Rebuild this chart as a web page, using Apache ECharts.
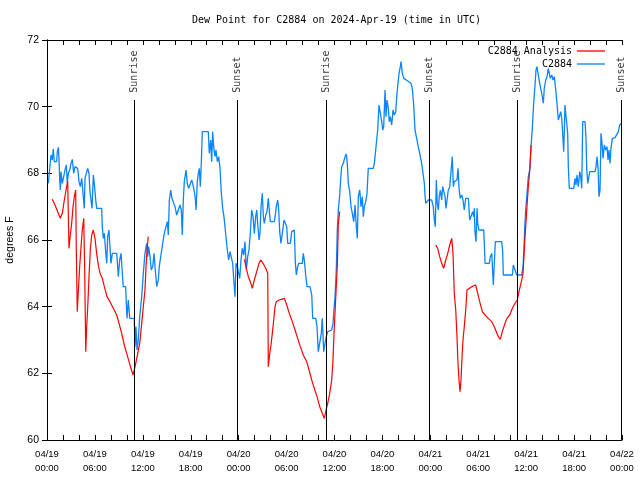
<!DOCTYPE html>
<html><head><meta charset="utf-8">
<script src="https://cdn.jsdelivr.net/npm/echarts@6/dist/echarts.min.js"></script>
<style>html,body{margin:0;padding:0;background:#fff}#c{width:640px;height:480px}</style>
</head><body><div id="c"></div>
<script>
// hours since 2024-04-19 00:00 UTC
const xTickLabels = ['04/19\n00:00','04/19\n06:00','04/19\n12:00','04/19\n18:00','04/20\n00:00','04/20\n06:00','04/20\n12:00','04/20\n18:00','04/21\n00:00','04/21\n06:00','04/21\n12:00','04/21\n18:00','04/22\n00:00'];

const blueHours = [0.16,0.29,0.50,0.66,0.79,0.91,1.21,1.29,1.42,1.50,1.59,1.67,1.75,1.92,2.09,2.25,2.42,2.54,2.67,2.84,3.01,3.17,3.34,3.51,3.67,3.84,4.01,4.17,4.35,4.55,4.67,4.76,4.92,5.10,5.26,5.38,5.51,5.64,5.80,5.92,6.10,6.22,6.85,6.92,7.05,7.18,7.35,7.48,7.60,7.76,7.93,8.01,8.18,8.73,8.85,8.93,9.10,9.27,9.43,9.55,9.85,9.93,10.02,10.18,10.36,10.93,11.02,11.14,11.27,11.43,11.61,11.86,12.06,12.27,12.48,12.61,12.73,12.90,13.06,13.24,13.40,13.56,13.74,13.94,14.06,14.24,14.49,14.65,14.90,15.06,15.19,15.32,15.49,15.65,15.82,16.03,16.24,16.44,16.65,16.82,16.94,17.07,17.19,17.41,17.57,17.74,17.99,18.12,18.24,18.41,18.57,18.66,18.82,18.95,19.07,19.20,19.32,19.45,20.20,20.32,20.50,20.62,20.75,20.87,21.04,21.16,21.33,21.50,21.66,21.83,22.00,22.16,22.41,22.58,22.75,22.92,23.13,23.25,23.42,23.54,23.67,23.83,24.00,24.13,24.29,24.46,24.63,24.79,24.96,25.13,25.29,25.46,25.63,25.80,25.96,26.13,26.26,26.38,26.55,26.67,26.80,26.96,27.09,27.21,27.39,27.55,27.71,27.89,27.96,28.46,28.59,28.71,28.89,29.01,29.14,29.30,29.55,29.68,29.89,30.02,30.14,30.47,30.64,30.80,30.97,31.09,31.22,31.39,31.52,31.97,32.09,32.22,32.39,32.56,32.93,33.15,33.27,33.65,33.81,33.97,34.22,34.35,34.47,34.65,34.81,34.97,35.15,35.31,35.65,35.81,35.98,36.06,36.23,36.35,36.48,36.65,36.78,36.90,37.10,37.32,37.48,37.60,37.73,37.91,38.07,38.23,38.41,38.57,38.73,38.86,38.98,39.16,39.32,39.48,39.61,39.73,39.91,40.07,40.23,40.86,40.99,41.16,41.28,41.41,41.57,41.82,41.91,42.04,42.16,42.33,42.45,42.58,42.74,42.86,42.99,43.16,43.33,43.49,43.67,43.79,43.95,44.08,44.24,44.33,44.49,44.67,44.99,45.24,45.58,45.74,45.92,46.08,46.29,46.49,46.71,46.92,47.08,47.25,47.33,47.42,47.58,47.75,48.17,48.37,48.50,48.62,48.75,48.87,49.00,49.12,49.25,49.42,49.55,49.71,49.84,49.96,50.09,50.25,50.43,50.55,50.68,50.75,50.88,51.00,51.18,51.34,51.47,51.59,51.75,51.93,52.09,52.25,52.43,52.76,52.93,53.18,53.30,53.43,53.51,53.59,53.72,53.85,53.93,54.09,54.68,54.76,54.85,55.38,55.51,55.69,55.81,55.89,56.01,56.14,56.94,57.06,57.14,58.27,58.39,58.60,58.82,59.44,59.61,59.73,59.82,59.94,60.11,60.27,60.48,60.61,60.77,60.94,61.11,61.23,61.36,61.52,61.70,61.86,62.02,62.15,62.27,62.45,62.61,62.77,62.90,63.02,63.20,63.36,63.53,63.70,63.86,64.03,64.20,64.33,64.45,64.58,64.70,64.78,64.86,65.08,65.20,65.28,65.40,65.95,66.12,66.24,66.37,66.53,66.71,66.83,66.96,67.08,67.37,67.49,67.58,67.71,67.83,67.96,68.62,68.75,68.87,69.00,69.12,69.25,69.37,69.50,69.62,69.79,69.96,70.12,70.25,70.37,70.50,70.62,70.79,71.13,71.38,71.54,71.71,71.88];
const blueDew = [67.70,68.01,68.55,68.40,68.73,68.35,68.35,68.65,68.78,68.46,67.80,67.50,68.05,67.70,67.90,68.10,68.25,67.70,68.00,68.10,68.30,68.42,68.00,68.20,68.25,68.15,67.75,67.60,67.85,67.90,66.95,67.85,68.00,68.15,68.00,67.45,67.20,66.95,67.95,67.70,67.20,66.95,66.95,66.40,66.05,66.20,65.65,65.30,66.10,66.30,65.60,65.30,65.60,65.60,65.20,64.90,65.40,65.60,65.00,64.60,64.60,64.10,63.65,64.20,63.65,63.65,62.80,63.40,62.70,63.00,63.70,64.30,65.00,65.60,65.90,65.50,65.80,65.50,65.10,65.20,65.60,65.10,64.60,64.80,65.20,65.50,65.55,66.15,66.40,66.55,66.15,67.20,67.50,67.25,67.20,67.00,66.75,66.75,67.05,66.90,66.15,67.20,67.75,68.10,67.70,67.55,67.55,67.80,67.70,67.50,67.25,66.90,67.75,68.00,68.15,67.60,68.30,69.25,69.25,68.60,69.00,68.35,69.25,68.80,68.50,68.70,68.35,68.50,68.15,67.40,66.95,66.70,66.65,65.70,65.40,65.65,65.65,65.30,64.70,64.30,65.30,65.20,65.00,64.85,65.40,65.75,65.55,65.95,65.10,65.50,65.70,66.20,66.90,66.70,66.20,66.70,66.90,66.50,66.00,66.20,67.00,67.40,66.70,66.50,66.75,66.85,67.25,67.20,66.55,66.55,66.75,67.00,67.20,66.90,66.25,65.90,65.90,66.60,66.60,66.40,65.90,65.90,66.25,66.30,66.30,65.35,64.95,65.20,65.30,65.30,65.60,65.40,64.95,64.60,64.60,64.35,63.65,63.65,63.40,62.65,62.65,63.20,63.65,62.65,62.90,63.10,63.25,63.30,63.30,63.50,64.05,64.25,65.15,66.30,66.90,67.35,67.85,68.20,68.30,68.50,68.58,68.30,67.70,67.45,67.00,66.80,66.55,67.05,66.40,66.05,67.30,67.50,67.00,67.30,66.70,67.00,67.15,67.40,68.15,68.15,68.30,68.70,69.00,69.30,70.05,70.05,69.55,69.30,69.40,70.50,69.70,70.20,69.95,69.55,69.70,69.45,69.90,69.75,69.85,70.30,70.70,71.00,71.20,71.35,71.00,70.85,70.80,70.75,70.70,70.55,70.05,69.30,69.05,68.80,68.55,68.30,68.00,67.70,67.35,67.10,67.15,67.20,67.20,67.00,66.60,66.40,67.80,67.10,66.90,67.30,67.50,67.20,67.60,67.65,67.30,66.95,67.20,67.50,67.60,67.95,68.30,68.50,67.60,67.75,67.80,67.80,68.15,67.55,67.25,67.35,67.20,66.90,67.25,67.25,66.60,66.60,66.85,66.70,66.95,66.25,65.95,66.95,66.50,66.30,66.30,65.90,65.30,65.30,65.50,65.60,65.00,64.65,65.30,65.95,65.95,65.65,64.95,64.95,65.25,65.20,64.95,64.95,65.20,65.80,66.40,66.90,67.40,67.90,68.15,68.80,69.35,70.10,70.65,71.10,71.20,70.95,70.70,70.50,70.30,70.10,70.55,70.80,70.90,71.15,71.20,70.85,70.95,70.80,70.90,70.50,70.10,69.60,69.55,69.85,69.65,69.15,68.65,69.30,70.05,70.05,69.20,68.20,67.55,67.55,67.85,67.65,67.95,67.60,68.05,67.90,67.55,69.55,69.55,69.05,68.15,67.70,67.85,68.05,68.05,68.20,68.50,68.15,67.30,67.50,69.20,68.90,68.45,68.85,68.70,68.80,68.40,68.70,68.30,68.75,69.05,69.07,69.10,69.25,69.45,69.50];

// null marks a gap in the analysis series
const redHours = [0.66,1.00,1.34,1.67,1.92,2.17,2.42,2.59,2.75,2.92,3.09,3.26,3.42,3.59,3.67,3.79,3.92,4.09,4.26,4.42,4.60,4.72,4.85,4.97,5.10,5.26,5.42,5.60,5.80,6.01,6.22,6.42,6.64,6.92,7.18,7.51,7.89,8.30,8.73,9.02,9.35,9.68,9.98,10.27,10.52,10.77,10.93,11.11,11.36,11.61,11.86,12.06,12.27,12.40,12.56,12.68,
  18.0,
  24.71,24.96,25.21,25.46,25.71,25.96,26.26,26.55,26.76,27.05,27.39,27.64,27.71,27.89,28.05,28.21,28.39,28.55,28.71,29.05,29.39,29.72,30.02,30.34,30.72,31.06,31.39,31.72,32.09,32.52,32.81,33.15,33.47,33.81,34.15,34.47,34.72,34.90,35.15,35.40,35.65,35.81,35.94,36.19,36.35,36.48,36.65,
  42.0,
  48.67,48.92,49.17,49.42,49.67,49.93,50.18,50.43,50.68,50.84,51.00,51.18,51.34,51.43,51.59,51.72,51.84,51.97,52.09,52.25,52.43,52.59,52.84,53.18,53.68,53.93,54.18,54.51,54.85,55.26,55.69,56.01,56.26,56.51,56.76,57.01,57.35,57.60,57.94,58.27,58.60,58.89,59.10,59.35,59.61,59.86,60.07,60.27,60.45,60.61];
const redDew = [67.22,67.05,66.85,66.65,66.80,67.20,67.55,67.77,65.75,66.15,66.50,67.00,67.30,67.50,65.70,63.85,64.45,65.20,65.80,66.30,66.65,65.10,62.65,63.40,64.00,64.90,65.70,66.15,66.30,66.05,65.60,65.25,65.00,64.85,64.60,64.30,64.15,63.95,63.75,63.50,63.20,62.85,62.60,62.35,62.15,61.95,62.10,62.30,62.60,62.90,63.50,64.00,64.50,65.20,65.80,66.10,
  null,
  65.42,65.15,64.90,64.75,64.55,64.80,65.05,65.30,65.40,65.30,65.15,65.00,62.20,62.60,62.85,63.20,63.60,64.00,64.15,64.20,64.22,64.25,64.05,63.80,63.55,63.30,63.05,62.80,62.55,62.35,62.10,61.80,61.55,61.30,61.00,60.80,60.65,60.85,61.10,61.40,61.80,62.40,63.20,64.45,65.20,66.50,66.85,
  null,
  65.85,65.75,65.50,65.30,65.15,65.40,65.60,65.85,66.05,65.60,64.40,63.90,63.10,62.45,61.80,61.45,61.80,62.50,63.00,63.40,63.90,64.50,64.55,64.60,64.65,64.40,64.15,63.85,63.75,63.65,63.55,63.40,63.25,63.10,63.02,63.25,63.50,63.65,63.75,63.95,64.10,64.20,64.45,64.70,65.00,66.10,66.90,67.60,68.10,68.85];

const sunHours = [10.89, 23.79, 34.94, 47.83, 58.85, 71.88];
const sunNames = ['Sunrise','Sunset','Sunrise','Sunset','Sunrise','Sunset'];

const mono = 'DejaVu Sans Mono';
const sans = 'Liberation Sans';

const blueData = blueHours.map((h, i) => [h, blueDew[i]]);
const redData = redHours.map((h, i) => [h, redDew[i] === null ? '-' : redDew[i]]);
const sunLabelData = sunHours.map((h, i) => ({ value: [h, 70.42], name: sunNames[i] }));
const sunLines = sunHours.map(h => [{ coord: [h, 70.2] }, { coord: [h, 60] }]);

const chart = echarts.init(document.getElementById('c'), null, { renderer: 'canvas' });
const tickStyle = { show: true, inside: true, length: 5, lineStyle: { color: '#000', width: 1 } };
const lineStyle = { show: true, lineStyle: { color: '#000', width: 1 } };
chart.setOption({
  animation: false,
  backgroundColor: '#fff',
  title: {
    text: 'Dew Point for C2884 on 2024-Apr-19 (time in UTC)',
    left: 187, top: 10,
    textStyle: { fontFamily: mono, fontSize: 10, fontWeight: 'normal', color: '#000' }
  },
  legend: {
    orient: 'vertical', right: 30, top: 40, align: 'right',
    icon: 'rect', itemWidth: 28, itemHeight: 1.3, itemGap: 1,
    data: ['C2884 Analysis', 'C2884'],
    textStyle: { fontFamily: mono, fontSize: 10, color: '#000', width: 86, align: 'right', lineHeight: 12 }
  },
  grid: { left: 47, right: 18, top: 40, bottom: 40, outerBoundsMode: 'none' },
  xAxis: [{
    type: 'value', min: 0, max: 72, interval: 2,
    axisLine: lineStyle, axisTick: tickStyle, splitLine: { show: false },
    axisLabel: {
      fontFamily: sans, fontSize: 9.5, color: '#000', lineHeight: 14, margin: 7,
      formatter: v => (v % 6 === 0 ? xTickLabels[v / 6] : '')
    }
  }, {
    type: 'value', min: 0, max: 72, interval: 2, position: 'top',
    axisLine: lineStyle, axisTick: tickStyle, axisLabel: { show: false }, splitLine: { show: false }
  }],
  yAxis: [{
    type: 'value', min: 60, max: 72, interval: 2,
    axisLine: lineStyle, axisTick: tickStyle, splitLine: { show: false },
    axisLabel: { fontFamily: sans, fontSize: 10.5, color: '#000', margin: 8 },
    name: 'degrees F', nameLocation: 'middle', nameGap: 31, nameRotate: 90,
    nameTextStyle: { fontFamily: sans, fontSize: 10.5, color: '#000' }
  }, {
    type: 'value', min: 60, max: 72, interval: 2, position: 'right',
    axisLine: lineStyle, axisTick: tickStyle, axisLabel: { show: false }, splitLine: { show: false }
  }],
  series: [{
    name: 'sun', type: 'scatter', symbolSize: 0, silent: true, z: 1,
    data: sunLabelData,
    label: {
      show: true, position: 'inside', rotate: 90, align: 'left', verticalAlign: 'middle',
      formatter: p => p.name, fontFamily: mono, fontSize: 10, color: '#000'
    },
    markLine: {
      silent: true, symbol: 'none', animation: false,
      lineStyle: { color: '#000', width: 1, type: 'solid' },
      label: { show: false },
      data: sunLines
    }
  }, {
    name: 'C2884 Analysis', type: 'line', symbol: 'none', connectNulls: false, z: 3,
    lineStyle: { color: '#ff0000', width: 1.2 }, itemStyle: { color: '#ff0000' },
    data: redData
  }, {
    name: 'C2884', type: 'line', symbol: 'none', z: 2,
    lineStyle: { color: '#0a84ff', width: 1.3 }, itemStyle: { color: '#0a84ff' },
    data: blueData
  }]
});
</script></body></html>
